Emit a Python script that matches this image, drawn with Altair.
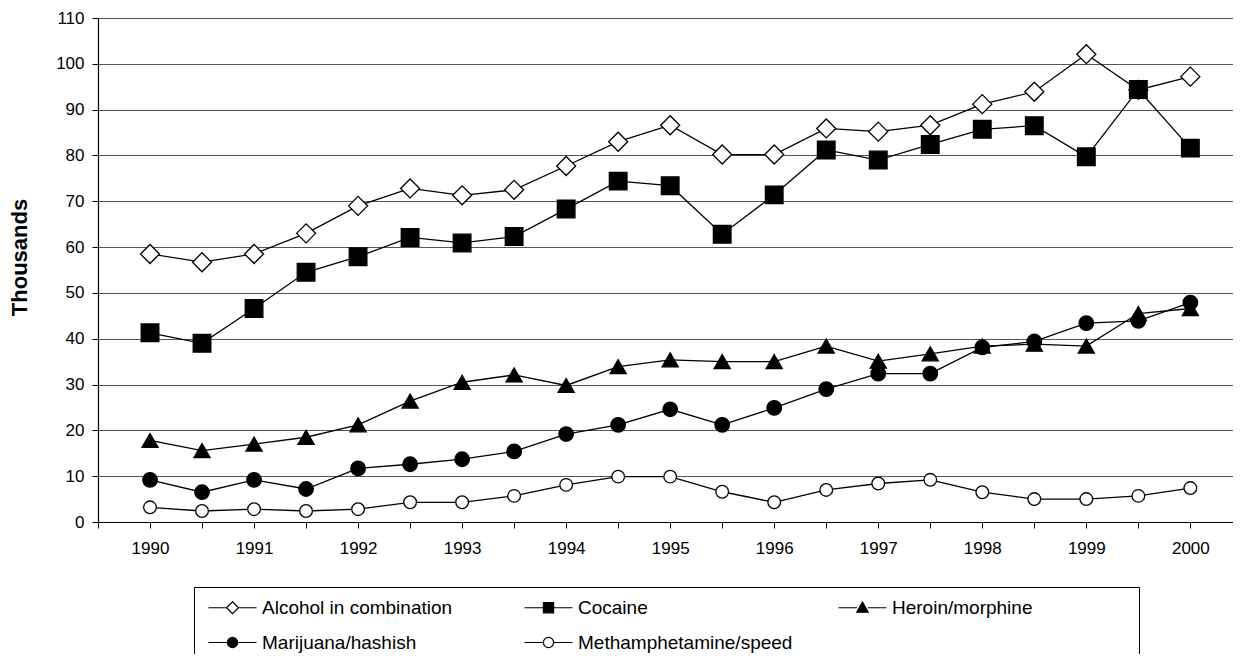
import altair as alt
import pandas as pd

periods = [1990, 1990.5, 1991, 1991.5, 1992, 1992.5, 1993, 1993.5, 1994, 1994.5,
           1995, 1995.5, 1996, 1996.5, 1997, 1997.5, 1998, 1998.5, 1999, 1999.5, 2000]

series_names = ["Alcohol in combination", "Cocaine", "Heroin/morphine",
                "Marijuana/hashish", "Methamphetamine/speed"]

alcohol = [58.5, 56.7, 58.5, 63.0, 69.0, 72.8, 71.3, 72.5, 77.7, 83.0,
           86.6, 80.2, 80.2, 85.9, 85.2, 86.6, 91.2, 93.9, 102.1, 94.3, 97.2]
cocaine = [41.3, 39.0, 46.6, 54.5, 57.9, 62.1, 60.9, 62.3, 68.3, 74.4,
           73.4, 62.8, 71.4, 81.2, 79.0, 82.4, 85.7, 86.5, 79.7, 94.4, 81.6]
heroin = [17.8, 15.6, 17.0, 18.5, 21.2, 26.4, 30.5, 32.1, 29.8, 33.9,
          35.4, 35.0, 35.0, 38.4, 35.1, 36.7, 38.4, 38.8, 38.4, 45.5, 46.6]
marijuana = [9.2, 6.5, 9.2, 7.2, 11.7, 12.6, 13.7, 15.4, 19.2, 21.2,
             24.6, 21.2, 24.9, 29.0, 32.4, 32.4, 38.1, 39.4, 43.4, 43.9, 47.9]
meth = [3.2, 2.4, 2.8, 2.4, 2.8, 4.3, 4.3, 5.7, 8.1, 9.9,
        9.9, 6.6, 4.3, 7.0, 8.4, 9.2, 6.5, 5.0, 5.0, 5.7, 7.4]

x_ticks = [1989.5, 1990, 1990.5, 1991, 1991.5, 1992, 1992.5, 1993, 1993.5, 1994, 1994.5,
           1995, 1995.5, 1996, 1996.5, 1997, 1997.5, 1998, 1998.5, 1999, 1999.5, 2000]
y_ticks = [0, 10, 20, 30, 40, 50, 60, 70, 80, 90, 100, 110]

values = [alcohol, cocaine, heroin, marijuana, meth]
rows = []
for name, vals in zip(series_names, values):
    for p, v in zip(periods, vals):
        rows.append({"period": p, "value": v, "series": name})
df = pd.DataFrame(rows)

FONT = "Liberation Sans"

plot_shapes = ["diamond", "square", "triangle-up", "circle", "circle"]
plot_sizes = [361, 160, 220, 150, 150]
fills = ["white", "black", "black", "black", "white"]
strokes = ["black", "black", "black", "black", "black"]

# legend symbols: short line with marker in the middle (unit coords)
legend_paths = [
    "M-1,0H2M4,0H7M3,-1L4,0L3,1L2,0Z",
    "M-1,0H2.15M3.85,0H7M2.15,-0.85H3.85V0.85H2.15Z",
    "M-1,0H2.1M3.9,0H7M3,-0.95L3.95,0.75L2.05,0.75Z",
    "M-1,0H2.15M3.85,0H7M2.15,0A0.85,0.85 0 1,0 3.85,0A0.85,0.85 0 1,0 2.15,0Z",
    "M-1,0H2.15M3.85,0H7M2.15,0A0.85,0.85 0 1,0 3.85,0A0.85,0.85 0 1,0 2.15,0Z",
]

NB = "\u00a0"
ZW = "\u200b"
label_expr = (
    f"datum.label == 'Alcohol in combination' ? datum.label + '{NB * 5}{ZW}' : "
    f"datum.label == 'Heroin/morphine' ? datum.label + '{NB * 18}{ZW}' : datum.label"
)

x_enc = alt.X("period:Q",
              scale=alt.Scale(domain=[1989.5, 2000.41], nice=False, zero=False),
              axis=alt.Axis(title=None, values=x_ticks,
                            labelExpr="datum.value % 1 == 0 ? toString(datum.value) : ''",
                            grid=False, tickSize=6, tickColor="black", domainColor="black",
                            domainWidth=1.2, labelFont=FONT, labelFontSize=17,
                            labelColor="black", labelPadding=12, labelFlush=False,
                            labelOverlap=False))
y_enc = alt.Y("value:Q",
              scale=alt.Scale(domain=[0, 110], nice=False),
              axis=alt.Axis(title="Thousands", values=y_ticks, grid=True,
                            gridColor="#555555", gridWidth=1, tickSize=6,
                            tickColor="black", domainColor="black", domainWidth=1.2,
                            labelFont=FONT, labelFontSize=17, labelColor="black",
                            labelPadding=8, titleFont=FONT, titleFontSize=22,
                            titleFontWeight="bold", titleColor="black",
                            titleX=-79, titleY=239, titleAlign="center",
                            titleBaseline="middle", titleAngle=-90))

lines = alt.Chart(df).mark_line(color="black", strokeWidth=1.3).encode(
    x=x_enc, y=y_enc, detail="series:N")

points = alt.Chart(df).mark_point(filled=True, opacity=1, stroke="black",
                                  strokeWidth=1.3).encode(
    x=x_enc, y=y_enc,
    shape=alt.Shape("series:N", scale=alt.Scale(domain=series_names, range=plot_shapes),
                    legend=None),
    fill=alt.Fill("series:N", scale=alt.Scale(domain=series_names, range=fills),
                  legend=None),
    size=alt.Size("series:N", scale=alt.Scale(domain=series_names, range=plot_sizes),
                  legend=None),
)

leg = dict(title=None, orient="none", legendX=96, legendY=569, direction="horizontal",
           columns=3, gridAlign="each", columnPadding=42, rowPadding=15, padding=11,
           strokeColor="black", labelFont=FONT, labelFontSize=19, labelColor="black",
           labelLimit=0, symbolSize=144, symbolStrokeWidth=1.2,
           labelOffset=38, symbolOpacity=1, labelExpr=label_expr)

legend_layer = alt.Chart(df).transform_filter("false").mark_point(
    filled=True, opacity=1, strokeWidth=1.2, size=144).encode(
    x=x_enc, y=y_enc,
    shape=alt.Shape("series:N", scale=alt.Scale(domain=series_names, range=legend_paths),
                    legend=alt.Legend(**leg)),
    fill=alt.Fill("series:N", scale=alt.Scale(domain=series_names, range=fills),
                  legend=alt.Legend(**leg)),
    stroke=alt.Stroke("series:N", scale=alt.Scale(domain=series_names, range=strokes),
                      legend=alt.Legend(**leg)),
)

chart = alt.layer(lines, points, legend_layer).resolve_scale(
    shape="independent", fill="independent", size="independent", stroke="independent"
).properties(
    width=1135, height=504,
    autosize=alt.AutoSizeParams(type="none"),
    padding={"left": 90, "top": 10, "right": 0, "bottom": 132},
).configure_view(stroke=None).configure(background="white")

chart.save("out.html", embed_options={"renderer": "svg", "actions": False})
